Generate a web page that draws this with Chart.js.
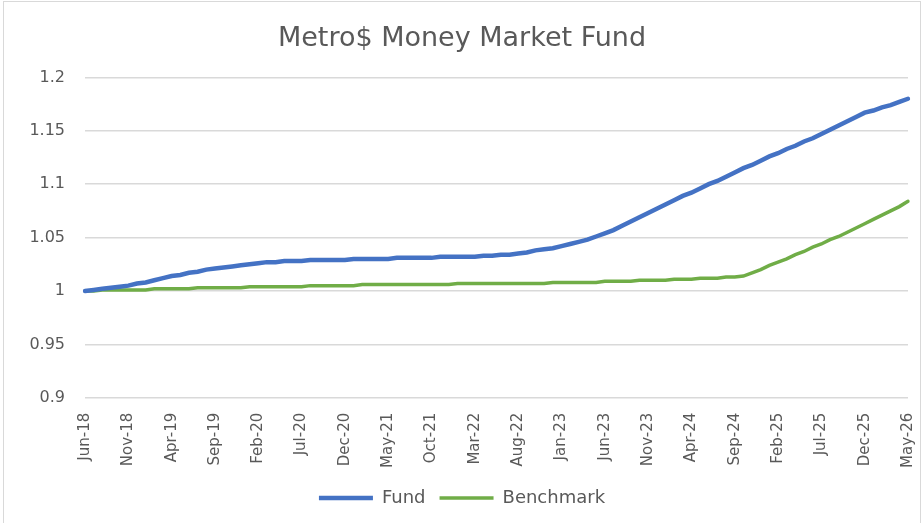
<!DOCTYPE html>
<html>
<head>
<meta charset="utf-8">
<script src="https://cdn.jsdelivr.net/npm/chart.js@4.4.1/dist/chart.umd.min.js"></script>
<style>
  html, body { margin: 0; padding: 0; background: #fff; }
  #wrap { position: relative; width: 924px; height: 523px; }
  #frame { position: absolute; left: 3px; top: 1px; width: 916px; height: 530px; border: 1px solid #d9d9d9; pointer-events: none; }
</style>
</head>
<body>
<div id="wrap">
  <canvas id="chart" width="924" height="523"></canvas>
  <div id="frame"></div>
</div>
<script>
// monthly series, Jun-18 .. May-26
const monthNames = ['Jan', 'Feb', 'Mar', 'Apr', 'May', 'Jun', 'Jul', 'Aug', 'Sep', 'Oct', 'Nov', 'Dec'];
const startMonth = 5;   // Jun
const startYear = 18;
const monthCount = 96;

const fund = [
  1.000, 1.001, 1.002, 1.003, 1.004, 1.005,
  1.007, 1.008, 1.010, 1.012, 1.014,
  1.015, 1.017, 1.018, 1.020, 1.021,
  1.022, 1.023, 1.024, 1.025, 1.026,
  1.027, 1.027, 1.028, 1.028, 1.028,
  1.029, 1.029, 1.029, 1.029, 1.029,
  1.030, 1.030, 1.030, 1.030, 1.030,
  1.031, 1.031, 1.031, 1.031, 1.031,
  1.032, 1.032, 1.032, 1.032, 1.032,
  1.033, 1.033, 1.034, 1.034, 1.035,
  1.036, 1.038, 1.039, 1.040, 1.042,
  1.044, 1.046, 1.048, 1.051, 1.054,
  1.057, 1.061, 1.065, 1.069, 1.073,
  1.077, 1.081, 1.085, 1.089, 1.092,
  1.096, 1.100, 1.103, 1.107, 1.111,
  1.115, 1.118, 1.122, 1.126, 1.129,
  1.133, 1.136, 1.140, 1.143, 1.147,
  1.151, 1.155, 1.159, 1.163, 1.167,
  1.169, 1.172, 1.174, 1.177, 1.180
];

const benchmark = [
  1.000, 1.000, 1.001, 1.001, 1.001, 1.001,
  1.001, 1.001, 1.002, 1.002, 1.002,
  1.002, 1.002, 1.003, 1.003, 1.003,
  1.003, 1.003, 1.003, 1.004, 1.004,
  1.004, 1.004, 1.004, 1.004, 1.004,
  1.005, 1.005, 1.005, 1.005, 1.005,
  1.005, 1.006, 1.006, 1.006, 1.006,
  1.006, 1.006, 1.006, 1.006, 1.006,
  1.006, 1.006, 1.007, 1.007, 1.007,
  1.007, 1.007, 1.007, 1.007, 1.007,
  1.007, 1.007, 1.007, 1.008, 1.008,
  1.008, 1.008, 1.008, 1.008, 1.009,
  1.009, 1.009, 1.009, 1.010, 1.010,
  1.010, 1.010, 1.011, 1.011, 1.011,
  1.012, 1.012, 1.012, 1.013, 1.013,
  1.014, 1.017, 1.020, 1.024, 1.027,
  1.030, 1.034, 1.037, 1.041, 1.044,
  1.048, 1.051, 1.055, 1.059, 1.063,
  1.067, 1.071, 1.075, 1.079, 1.084
];

const yTicks = [0.9, 0.95, 1, 1.05, 1.1, 1.15, 1.2];

const labels = [];
for (let i = 0; i < monthCount; i++) {
  const m = (startMonth + i) % 12;
  const y = startYear + Math.floor((startMonth + i) / 12);
  labels.push(monthNames[m] + '-' + y);
}

const textColor = '#595959';
const gridColor = '#d9d9d9';

const ctx = document.getElementById('chart').getContext('2d');
new Chart(ctx, {
  type: 'line',
  data: {
    labels: labels,
    datasets: [
      {
        label: 'Fund',
        data: fund,
        borderColor: '#4472c4',
        backgroundColor: '#4472c4',
        borderWidth: 4.5,
        borderCapStyle: 'round',
        pointRadius: 0,
        tension: 0
      },
      {
        label: 'Benchmark',
        data: benchmark,
        borderColor: '#70ad47',
        backgroundColor: '#70ad47',
        borderWidth: 3.5,
        borderCapStyle: 'round',
        pointRadius: 0,
        tension: 0
      }
    ]
  },
  options: {
    responsive: false,
    animation: false,
    layout: { padding: { left: 0, right: 0, top: 0, bottom: 6 } },
    scales: {
      x: {
        afterFit: (axis) => { axis.paddingRight = 16; axis.paddingLeft = 0; },
        grid: { display: false },
        border: { display: false },
        ticks: {
          color: textColor,
          font: { family: 'DejaVu Sans', size: 15 },
          autoSkip: false,
          minRotation: 90,
          maxRotation: 90,
          padding: 7,
          callback: function (val, index) {
            return index % 5 === 0 ? this.getLabelForValue(val) : '';
          }
        }
      },
      y: {
        min: 0.9,
        max: 1.2,
        afterFit: (axis) => { axis.width = 85; },
        afterBuildTicks: (axis) => { axis.ticks = yTicks.map(v => ({ value: v })); },
        grid: { color: gridColor, lineWidth: 1.5, drawTicks: false },
        border: { display: false },
        ticks: {
          color: textColor,
          font: { family: 'DejaVu Sans', size: 16 },
          padding: 20,
          callback: (v) => String(Number(v.toFixed(2)))
        }
      }
    },
    plugins: {
      title: {
        display: true,
        text: 'Metro$ Money Market Fund',
        color: textColor,
        font: { family: 'DejaVu Sans', size: 27, weight: 'normal' },
        padding: { top: 23, bottom: 22 }
      },
      legend: {
        position: 'bottom',
        labels: {
          color: textColor,
          font: { family: 'DejaVu Sans', size: 18 },
          usePointStyle: true,
          pointStyle: 'line',
          pointStyleWidth: 54,
          padding: 14
        }
      },
      tooltip: { enabled: false }
    }
  }
});
</script>
</body>
</html>
